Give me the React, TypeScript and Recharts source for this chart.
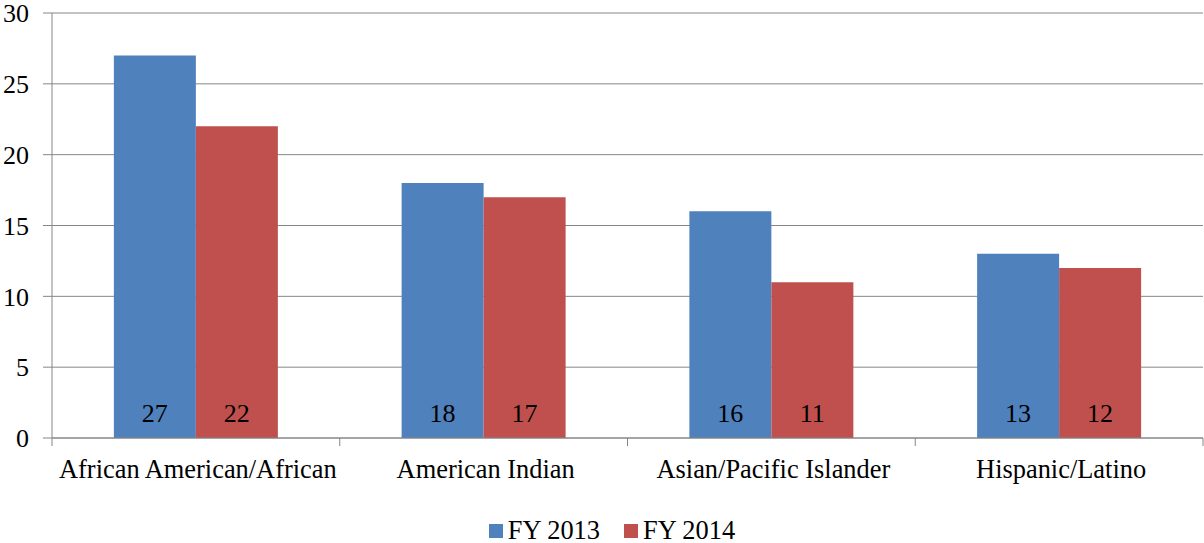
import React from "react";
import { BarChart, Bar, XAxis, YAxis, CartesianGrid, Legend, LabelList } from "recharts";

const categories = ["African American/African", "American Indian", "Asian/Pacific Islander", "Hispanic/Latino"];
const fy2013 = [27, 18, 16, 13];
const fy2014 = [22, 17, 11, 12];
const yTicks = [0, 5, 10, 15, 20, 25, 30];

const data = categories.map((c, i) => ({ name: c, fy2013: fy2013[i], fy2014: fy2014[i] }));

const W = 1204;
const H = 543;
const MARGIN = { top: 13, right: 1, left: 0, bottom: 0 };
const Y_W = 52;
const PLOT_W = W - MARGIN.left - MARGIN.right - Y_W;
const BAND = PLOT_W / categories.length;
const FONT = "Liberation Serif, Times New Roman, serif";
const GRID = "#868686";
const BLUE = "#4F81BD";
const RED = "#C0504D";

const XTick = (props: any) => {
  const { x, y, payload, index } = props;
  return (
    <g>
      {index === 0 && (
        <line x1={x - BAND / 2} x2={x - BAND / 2} y1={y} y2={y + 8} stroke={GRID} strokeWidth={1} />
      )}
      <line x1={x + BAND / 2} x2={x + BAND / 2} y1={y} y2={y + 8} stroke={GRID} strokeWidth={1} />
      <text x={x + 2} y={y + 40} textAnchor="middle" style={{ fontFamily: FONT, fontSize: 26.4 }} fill="#000">
        {payload.value}
      </text>
    </g>
  );
};

const LegendContent = () => {
  const items = [
    { label: "FY 2013", color: BLUE },
    { label: "FY 2014", color: RED },
  ];
  return (
    <div
      style={{
        height: 45,
        boxSizing: "border-box",
        paddingTop: 17,
        paddingLeft: 20,
        display: "flex",
        justifyContent: "center",
        alignItems: "flex-start",
        fontFamily: FONT,
        fontSize: 26.4,
        color: "#000",
        lineHeight: "normal",
      }}
    >
      {items.map((it, i) => (
        <div key={it.label} style={{ display: "flex", alignItems: "center", marginRight: i === 0 ? 24 : 0 }}>
          <span style={{ display: "inline-block", width: 14, height: 14, background: it.color, marginRight: 5 }} />
          <span>{it.label}</span>
        </div>
      ))}
    </div>
  );
};

const labelStyle = { fontFamily: FONT, fontSize: 26 };

export default function App() {
  return (
    <div style={{ position: "absolute", left: 0, top: 0, width: W, height: H, background: "#fff", fontFamily: FONT }}>
      <BarChart width={W} height={H} data={data} margin={MARGIN} barCategoryGap="21.5%" barGap={0} style={{ fontFamily: FONT }}>
        <CartesianGrid horizontal vertical={false} stroke={GRID} strokeWidth={1} />
        <XAxis
          dataKey="name"
          height={60}
          axisLine={{ stroke: GRID }}
          tickLine={false}
          tickSize={0}
          tickMargin={0}
          tick={<XTick />}
          interval={0}
        />
        <YAxis
          width={Y_W}
          domain={[0, 30]}
          ticks={yTicks}
          interval={0}
          axisLine={{ stroke: GRID }}
          tickLine={{ stroke: GRID }}
          tickSize={9}
          tickMargin={14}
          tick={{ style: labelStyle, fontSize: 26, fill: "#000" }}
        />
        <Legend verticalAlign="bottom" height={45} content={<LegendContent />} wrapperStyle={{ left: 0, bottom: 0, width: W }} />
        <Bar dataKey="fy2013" name="FY 2013" fill={BLUE} isAnimationActive={false}>
          <LabelList dataKey="fy2013" position="insideBottom" offset={16} fill="#000" style={labelStyle} fontSize={26} />
        </Bar>
        <Bar dataKey="fy2014" name="FY 2014" fill={RED} isAnimationActive={false}>
          <LabelList dataKey="fy2014" position="insideBottom" offset={16} fill="#000" style={labelStyle} fontSize={26} />
        </Bar>
      </BarChart>
    </div>
  );
}
